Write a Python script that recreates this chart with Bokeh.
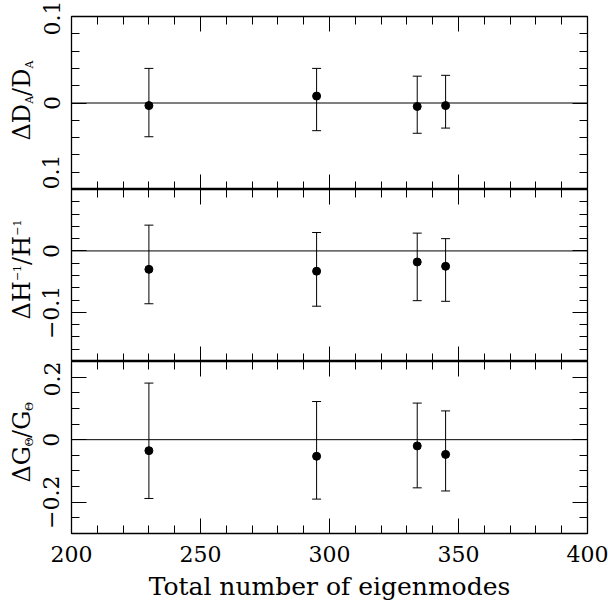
import math
from bokeh.plotting import figure
from bokeh.models import (LinearAxis, FixedTicker, ColumnDataSource, Whisker,
                          TeeHead, Span, Label, Range1d, CustomLabelingPolicy)
from bokeh.layouts import column, row
from bokeh.embed import file_html
from bokeh.resources import INLINE

# ---------------- data ----------------
modes = [230, 295, 334, 345]

da_val = [-0.003, 0.008, -0.004, -0.003]
da_lo = [-0.039, -0.032, -0.035, -0.029]
da_hi = [0.040, 0.040, 0.031, 0.032]

h_val = [-0.030, -0.033, -0.018, -0.025]
h_lo = [-0.086, -0.090, -0.081, -0.082]
h_hi = [0.042, 0.030, 0.029, 0.020]

g_val = [-0.035, -0.053, -0.020, -0.047]
g_lo = [-0.188, -0.190, -0.154, -0.164]
g_hi = [0.181, 0.122, 0.117, 0.092]

x_limits = (200, 400)
x_major = [200, 250, 300, 350, 400]
x_minor = [200, 210, 220, 230, 240, 250, 260, 270, 280, 290, 300,
           310, 320, 330, 340, 350, 360, 370, 380, 390, 400]
x_title = "Total number of eigenmodes"

da_limits = (-0.1, 0.1)
da_major = [-0.1, 0.0, 0.1]
da_minor = [-0.08, -0.06, -0.04, -0.02, 0.02, 0.04, 0.06, 0.08]
da_tick_labels = ["0.1", "0", "0.1"]

h_limits = (-0.18, 0.1)
h_major = [-0.1, 0.0]
h_minor = [-0.16, -0.14, -0.12, -0.08, -0.06, -0.04, -0.02,
           0.02, 0.04, 0.06, 0.08]
h_tick_labels = ["\u22120.1", "0"]

g_limits = (-0.3, 0.25)
g_major = [-0.2, 0.0, 0.2]
g_minor = [-0.25, -0.15, -0.1, -0.05, 0.05, 0.1, 0.15]
g_tick_labels = ["\u22120.2", "0", "0.2"]

# y titles: (text, role) role: main / sub / sup
da_title = [("\u0394D", "main"), ("A", "sub"), ("/D", "main"), ("A", "sub")]
h_title = [("\u0394H", "main"), ("\u22121", "sup"), ("/H", "main"), ("\u22121", "sup")]
g_title = [("\u0394G", "main"), ("\u0398", "sub"), ("/G", "main"), ("\u0398", "sub")]

# ---------------- style / layout ----------------
FONT = "DejaVu Serif"
FRAME_W = 516
FRAME_H = [173, 172, 172]
TOP = 16
BOTTOM = 70
TITLE_W = 34
LEFT = 37
RIGHT = 21
PAGE_H = TOP + sum(FRAME_H) + BOTTOM

MAIN_PX = 24
SMALL_PX = 11
DESCENT = 0.236
EM = {"\u0394": 0.72, "D": 0.81, "A": 0.72, "/": 0.337, "H": 0.876,
      "G": 0.78, "\u0398": 0.786, "\u2212": 0.838, "1": 0.636}
ROLE_SIZE = {"main": MAIN_PX, "sub": SMALL_PX, "sup": SMALL_PX}
ROLE_X = {"main": 26.7, "sub": 31.3, "sup": 18.7}   # wanted baseline x on page
TITLE_CENTERS = [100, 269, 442]                     # page y of title centres

NO_LABELS = CustomLabelingPolicy(code="return new Set()")


def style_axis(ax, show_labels):
    ax.axis_line_color = None
    ax.major_tick_in = 15
    ax.major_tick_out = 0
    ax.minor_tick_in = 8
    ax.minor_tick_out = 0
    ax.major_tick_line_color = "black"
    ax.minor_tick_line_color = "black"
    ax.major_tick_line_width = 1
    ax.minor_tick_line_width = 1
    if show_labels:
        ax.major_label_text_font = FONT
        ax.major_label_text_font_size = "22px"
        ax.major_label_text_color = "black"
    else:
        ax.major_label_policy = NO_LABELS
        ax.major_label_text_font_size = "0px"
        ax.major_label_standoff = 0


def make_panel(val, lo, hi, limits, major, minor, tick_labels,
               frame_h, top, bottom, show_x):
    p = figure(frame_width=FRAME_W, frame_height=frame_h,
               x_range=Range1d(*x_limits), y_range=Range1d(*limits),
               x_axis_location=None, y_axis_location=None,
               toolbar_location=None, output_backend="svg",
               min_border_left=LEFT, min_border_right=RIGHT,
               min_border_top=top, min_border_bottom=bottom)
    p.grid.visible = False
    p.outline_line_color = "black"
    p.outline_line_width = 1.3
    p.background_fill_color = "white"
    p.border_fill_color = "white"

    xt = FixedTicker(ticks=x_major, minor_ticks=x_minor)
    yt = FixedTicker(ticks=major, minor_ticks=minor)
    for side in ("below", "above"):
        ax = LinearAxis(ticker=xt)
        lab = show_x and side == "below"
        style_axis(ax, lab)
        if lab:
            ax.major_label_standoff = 12
            ax.axis_label = x_title
            ax.axis_label_text_font = FONT
            ax.axis_label_text_font_size = "25px"
            ax.axis_label_text_font_style = "normal"
            ax.axis_label_text_color = "black"
            ax.axis_label_standoff = 7
        p.add_layout(ax, side)
    for side in ("left", "right"):
        ax = LinearAxis(ticker=yt)
        lab = side == "left"
        style_axis(ax, lab)
        if lab:
            ax.major_label_overrides = dict(zip(major, tick_labels))
            ax.major_label_orientation = "vertical"
            ax.major_label_standoff = 12
        p.add_layout(ax, side)

    p.add_layout(Span(location=0, dimension="width",
                      line_color="black", line_width=1))

    src = ColumnDataSource(dict(x=modes, y=val, lo=lo, hi=hi))
    p.add_layout(Whisker(source=src, base="x", upper="hi", lower="lo",
                         line_color="black", line_width=1,
                         upper_head=TeeHead(size=9, line_color="black", line_width=1),
                         lower_head=TeeHead(size=9, line_color="black", line_width=1)))
    p.scatter("x", "y", source=src, size=8, color="black")
    return p


p1 = make_panel(da_val, da_lo, da_hi, da_limits, da_major, da_minor,
                da_tick_labels, FRAME_H[0], TOP, 0, False)
p2 = make_panel(h_val, h_lo, h_hi, h_limits, h_major, h_minor,
                h_tick_labels, FRAME_H[1], 0, 0, False)
p3 = make_panel(g_val, g_lo, g_hi, g_limits, g_major, g_minor,
                g_tick_labels, FRAME_H[2], 0, BOTTOM, True)

# narrow strip holding the composed, rotated y titles (1 data unit = 1 px)
tf = figure(width=TITLE_W, height=PAGE_H,
            x_range=Range1d(0, TITLE_W), y_range=Range1d(0, PAGE_H),
            x_axis_location=None, y_axis_location=None,
            toolbar_location=None, output_backend="svg", min_border=0,
            min_border_left=0, min_border_right=0, min_border_top=0,
            min_border_bottom=0)
tf.grid.visible = False
tf.outline_line_color = None
tf.background_fill_color = "white"
tf.border_fill_color = "white"

for title, cy in zip([da_title, h_title, g_title], TITLE_CENTERS):
    widths = [sum(EM.get(c, 0.7) for c in t) * ROLE_SIZE[r] for t, r in title]
    total = sum(widths)
    y_page = cy + total / 2.0
    for (t, r), w in zip(title, widths):
        size = ROLE_SIZE[r]
        tf.add_layout(Label(x=ROLE_X[r] - DESCENT * size, y=PAGE_H - y_page,
                            angle=math.pi / 2, text=t, text_font=FONT,
                            text_font_size="%dpx" % size,
                            text_color="black", text_align="left",
                            text_baseline="alphabetic"))
        y_page -= w

layout = row(tf, column(p1, p2, p3, spacing=0), spacing=0)
open("out.html", "w").write(file_html(layout, INLINE))
